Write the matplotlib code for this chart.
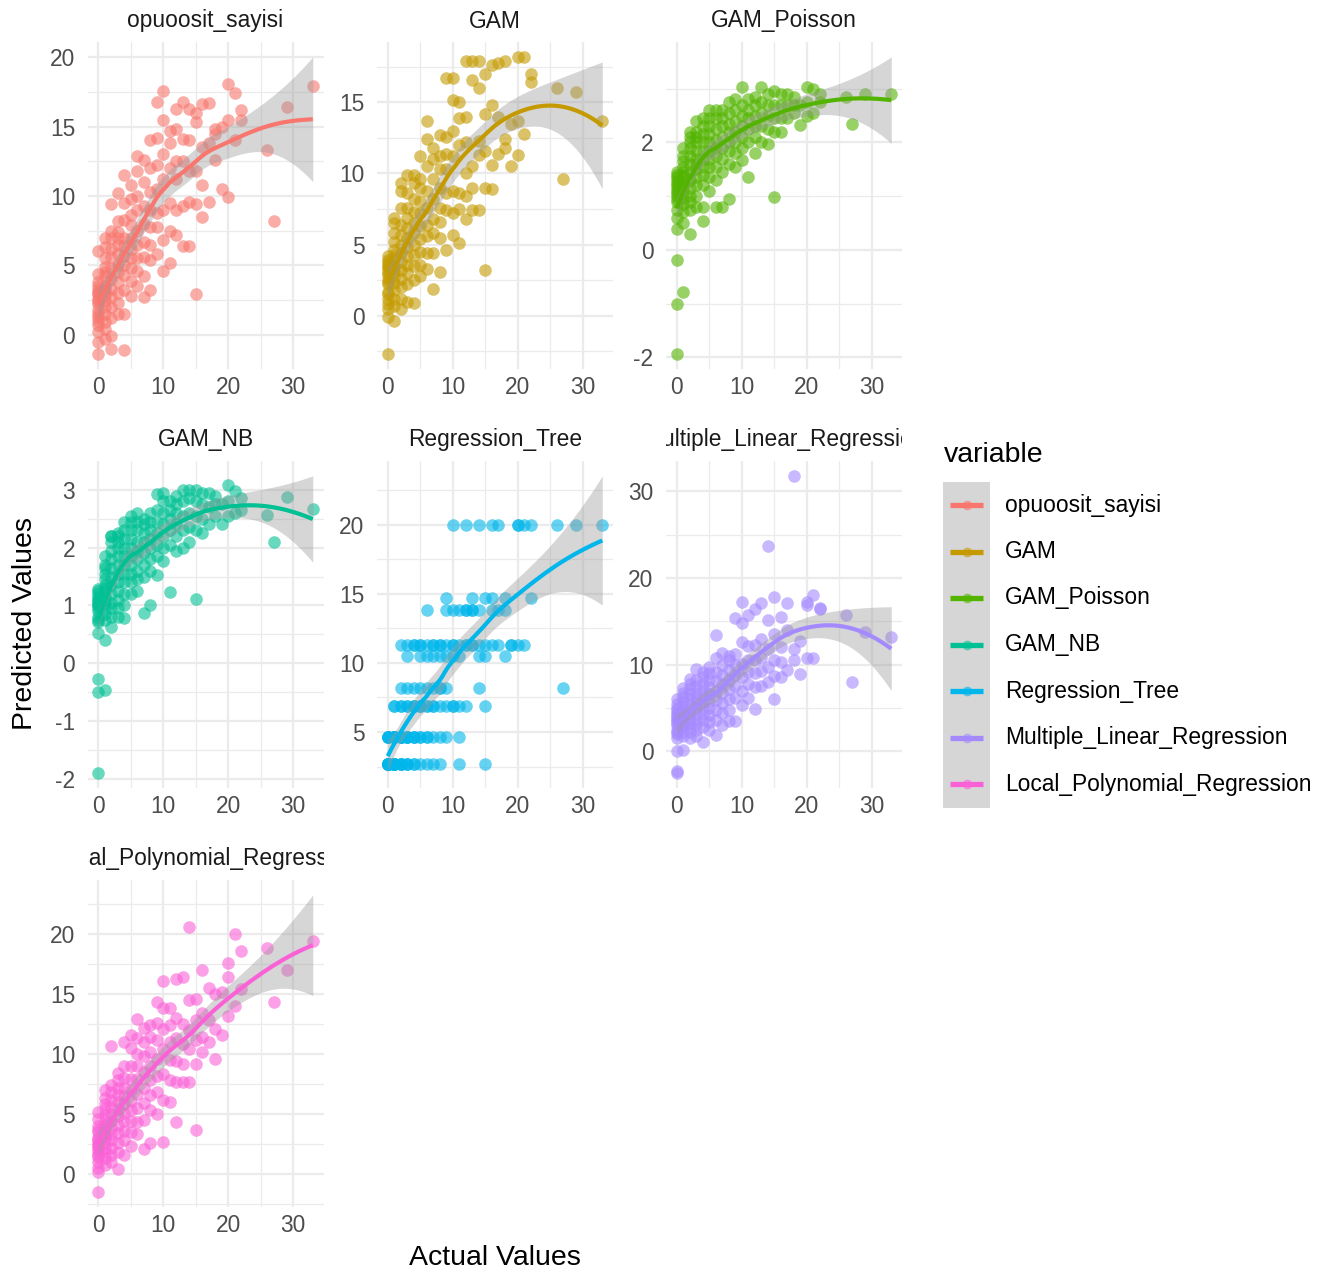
import numpy as np
import matplotlib
matplotlib.use("Agg")
import matplotlib.pyplot as plt
from matplotlib.ticker import MultipleLocator
from matplotlib.transforms import Bbox, TransformedBbox
from matplotlib.lines import Line2D
from matplotlib.patches import Rectangle

plt.rcParams["font.family"] = ["Liberation Sans", "DejaVu Sans"]

# ---------------------------------------------------------------- data
actual = [
    0, 0, 0, 0, 0, 0, 0, 0, 0, 0, 0, 0, 0, 0, 0, 0, 0, 0,
    1, 1, 1, 1, 1, 1, 1, 1, 1, 1, 1, 1, 1, 1, 1, 1,
    2, 2, 2, 2, 2, 2, 2, 2, 2, 2, 2, 2, 2,
    3, 3, 3, 3, 3, 3, 3, 3, 3, 3, 3, 3,
    4, 4, 4, 4, 4, 4, 4, 4, 4, 4, 4,
    5, 5, 5, 5, 5, 5, 5, 5, 5, 5,
    6, 6, 6, 6, 6, 6, 6, 6, 6,
    7, 7, 7, 7, 7, 7, 7, 7,
    8, 8, 8, 8, 8, 8, 8, 8,
    9, 9, 9, 9, 9, 9, 9,
    10, 10, 10, 10, 10, 10, 10,
    11, 11, 11, 11, 11, 11,
    12, 12, 12, 12, 12, 12,
    13, 13, 13, 13, 13,
    14, 14, 14, 14, 14,
    15, 15, 15, 15, 15,
    16, 16, 16, 16,
    17, 17, 17,
    18, 18, 18,
    19, 19,
    20, 20, 20,
    21, 21,
    22, 22,
    26, 27, 29, 33,
]

opuoosit_sayisi = [
    -1.4, -0.5, 0.2, 0.7, 1.0, 1.3, 1.8, 2.2, 2.6, 3.0, 3.2, 3.5, 4.4, 6.0, 1.5, 2.4, 2.9, 3.8,
    -0.3, 0.4, 0.9, 1.5, 2.0, 2.4, 2.8, 3.1, 3.6, 4.2, 4.9, 5.5, 6.3, 7.0, 3.3, 4.5,
    -1.05, -0.1, 1.2, 2.0, 2.7, 3.3, 4.0, 4.8, 5.6, 6.2, 7.0, 7.5, 9.4,
    1.5, 2.3, 3.0, 3.8, 4.5, 5.0, 5.8, 6.5, 7.0, 7.4, 8.2, 10.2,
    -1.1, 1.5, 3.2, 4.3, 5.0, 5.7, 6.4, 7.0, 8.3, 9.5, 11.5,
    2.8, 3.9, 4.8, 5.5, 6.2, 7.0, 7.9, 8.6, 9.8, 10.8,
    3.5, 4.6, 5.5, 6.5, 7.5, 9.0, 10.0, 11.8, 12.9,
    2.7, 4.2, 5.6, 6.7, 8.0, 9.3, 11.0, 12.6,
    3.2, 5.4, 6.5, 7.8, 9.0, 10.3, 12.0, 14.0,
    5.8, 7.8, 8.8, 10.5, 12.2, 14.2, 16.8,
    4.6, 6.8, 9.0, 11.2, 13.0, 15.5, 17.6,
    5.2, 7.5, 9.5, 12.0, 13.8, 14.7,
    7.2, 9.0, 11.2, 12.5, 14.8, 16.3,
    6.4, 9.3, 12.5, 14.1, 16.8,
    6.4, 9.6, 11.8, 14.0, 16.3,
    2.9, 9.4, 11.8, 15.3, 16.0,
    8.5, 10.8, 13.5, 16.6,
    9.6, 13.8, 16.7,
    12.6, 14.5, 14.8,
    10.5, 15.0,
    9.9, 15.5, 18.1,
    14.0, 17.4,
    15.5, 16.2,
    13.3, 8.2, 16.4, 17.9,
]

gam = [
    -2.7, -0.1, 0.5, 0.8, 1.2, 1.7, 2.2, 2.6, 3.0, 3.3, 3.6, 3.9, 4.2, 3.4, 1.5, 2.4, 2.9, 3.8,
    -0.35, 0.7, 1.2, 1.8, 2.3, 2.7, 3.1, 3.5, 4.0, 4.6, 5.2, 5.8, 6.5, 6.9, 3.3, 4.3,
    0.5, 1.2, 2.0, 2.6, 3.2, 3.8, 4.4, 5.0, 5.7, 6.4, 7.6, 8.8, 9.3,
    1.0, 2.2, 3.0, 3.6, 4.2, 4.8, 5.5, 6.2, 6.9, 7.6, 8.6, 9.9,
    0.9, 2.5, 3.5, 4.3, 5.0, 5.8, 6.5, 7.3, 8.2, 9.3, 9.9,
    2.8, 3.6, 4.5, 5.4, 6.3, 7.2, 8.1, 9.0, 9.6, 11.2,
    3.3, 4.4, 5.6, 6.4, 7.6, 8.8, 10.5, 12.4, 13.7,
    1.9, 4.4, 5.8, 6.8, 8.2, 9.6, 11.0, 11.8,
    3.1, 5.5, 6.6, 7.6, 9.0, 10.3, 11.2, 12.7,
    4.6, 7.4, 8.6, 10.3, 11.4, 12.6, 16.7,
    5.7, 7.2, 8.8, 11.2, 13.0, 15.2, 16.7,
    5.1, 7.5, 8.6, 12.0, 13.9, 15.0,
    6.8, 8.4, 10.0, 12.2, 14.0, 17.9,
    7.4, 9.0, 10.5, 16.6, 17.9,
    7.4, 11.3, 12.3, 16.0, 17.9,
    3.2, 9.0, 11.6, 14.2, 17.0,
    8.9, 10.6, 14.8, 17.6,
    11.4, 14.0, 17.8,
    11.8, 12.4, 17.9,
    10.5, 13.5,
    11.3, 13.7, 18.2,
    12.8, 18.2,
    16.4, 17.0,
    16.0, 9.6, 15.7, 13.7,
]

gam_poisson = [
    -1.94, -1.0, -0.18, 0.39, 0.6, 0.75, 0.9, 1.0, 1.05, 1.1, 1.2, 1.3, 1.36, 1.45, 0.95, 1.15, 1.25, 1.4,
    -0.79, 0.5, 0.7, 0.85, 0.95, 1.05, 1.15, 1.25, 1.35, 1.45, 1.55, 1.65, 1.75, 1.9, 1.2, 1.4,
    0.3, 0.75, 0.9, 1.0, 1.15, 1.3, 1.45, 1.6, 1.75, 1.9, 2.0, 2.1, 2.2,
    0.8, 1.0, 1.2, 1.35, 1.5, 1.6, 1.7, 1.85, 2.0, 2.1, 2.2, 2.4,
    0.53, 0.8, 1.2, 1.4, 1.55, 1.7, 1.85, 2.0, 2.15, 2.3, 2.45,
    1.1, 1.35, 1.55, 1.7, 1.85, 2.0, 2.15, 2.3, 2.45, 2.6,
    0.79, 1.3, 1.55, 1.75, 1.9, 2.05, 2.25, 2.45, 2.6,
    0.8, 1.45, 1.7, 1.9, 2.1, 2.3, 2.45, 2.6,
    0.95, 1.6, 1.85, 2.0, 2.2, 2.35, 2.55, 2.75,
    1.55, 1.8, 2.0, 2.2, 2.4, 2.6, 2.8,
    1.67, 1.9, 2.1, 2.3, 2.5, 2.7, 3.03,
    1.36, 2.0, 2.25, 2.45, 2.6, 2.8,
    1.8, 2.1, 2.3, 2.5, 2.7, 2.85,
    2.0, 2.3, 2.55, 2.75, 3.03,
    1.97, 2.25, 2.5, 2.7, 2.9,
    0.99, 2.2, 2.45, 2.7, 2.95,
    2.2, 2.45, 2.7, 2.9,
    2.45, 2.7, 2.9,
    2.55, 2.7, 2.85,
    2.33, 2.7,
    2.5, 2.75, 3.03,
    2.55, 3.0,
    2.75, 2.9,
    2.85, 2.35, 2.9, 2.9,
]

gam_nb = [
    -1.9, -0.5, -0.27, 0.52, 0.72, 0.75, 0.8, 0.9, 1.0, 1.05, 1.1, 1.15, 1.2, 1.28, 0.95, 1.1, 1.25, 1.0,
    -0.47, 0.41, 0.75, 0.85, 0.95, 1.05, 1.15, 1.25, 1.3, 1.45, 1.55, 1.65, 1.7, 1.85, 1.1, 1.35,
    0.63, 0.8, 0.95, 1.05, 1.2, 1.35, 1.5, 1.65, 1.8, 1.95, 2.1, 2.2, 2.2,
    0.8, 0.95, 1.1, 1.25, 1.4, 1.55, 1.7, 1.85, 2.0, 2.1, 2.2, 2.25,
    0.78, 1.0, 1.2, 1.4, 1.55, 1.7, 1.85, 2.0, 2.15, 2.3, 2.45,
    1.2, 1.4, 1.55, 1.7, 1.85, 2.0, 2.15, 2.3, 2.45, 2.55,
    1.25, 1.45, 1.6, 1.8, 1.95, 2.1, 2.3, 2.45, 2.6,
    0.87, 1.5, 1.7, 1.9, 2.1, 2.25, 2.4, 2.5,
    1.0, 1.6, 1.8, 2.0, 2.15, 2.3, 2.45, 2.6,
    1.52, 1.85, 2.05, 2.25, 2.45, 2.65, 2.92,
    1.77, 2.0, 2.2, 2.4, 2.6, 2.8, 2.94,
    1.23, 2.05, 2.3, 2.5, 2.65, 2.8,
    1.95, 2.2, 2.4, 2.6, 2.75, 2.9,
    2.0, 2.3, 2.55, 2.8, 3.0,
    2.1, 2.35, 2.6, 2.85, 3.0,
    1.12, 2.3, 2.55, 2.8, 3.0,
    2.25, 2.5, 2.75, 2.95,
    2.4, 2.7, 2.95,
    2.55, 2.75, 2.9,
    2.4, 2.75,
    2.55, 2.8, 3.08,
    2.6, 2.98,
    2.65, 2.85,
    2.57, 2.09, 2.87, 2.66,
]

regression_tree = [
    2.7, 2.7, 2.7, 2.7, 2.7, 2.7, 2.7, 2.7, 2.7, 2.7, 2.7, 2.7, 2.7, 4.6, 4.6, 4.6, 4.6, 4.6,
    2.7, 2.7, 2.7, 2.7, 2.7, 2.7, 2.7, 4.6, 4.6, 4.6, 4.6, 4.6, 4.6, 4.6, 6.9, 6.9,
    2.7, 2.7, 2.7, 2.7, 4.6, 4.6, 4.6, 4.6, 4.6, 6.9, 6.9, 8.2, 11.3,
    2.7, 2.7, 2.7, 4.6, 4.6, 4.6, 4.6, 6.9, 6.9, 8.2, 10.5, 11.3,
    2.7, 2.7, 4.6, 4.6, 4.6, 6.9, 6.9, 6.9, 8.2, 11.3, 11.3,
    2.7, 4.6, 4.6, 6.9, 6.9, 6.9, 8.2, 10.5, 11.3, 11.3,
    2.7, 4.6, 4.6, 6.9, 6.9, 8.2, 10.5, 11.3, 13.8,
    2.7, 4.6, 6.9, 6.9, 8.2, 10.5, 11.3, 11.3,
    2.7, 4.6, 6.9, 8.2, 8.2, 10.5, 11.3, 11.3,
    4.6, 6.9, 8.2, 10.5, 11.3, 13.8, 14.7,
    6.9, 6.9, 10.5, 11.3, 11.3, 13.8, 20.0,
    2.7, 4.6, 6.9, 10.5, 11.3, 13.8,
    6.9, 11.3, 11.3, 13.8, 13.8, 20.0,
    11.3, 11.3, 13.8, 13.8, 14.7,
    8.2, 10.5, 11.3, 13.8, 20.0,
    2.7, 6.9, 10.5, 11.3, 14.7,
    11.3, 13.8, 14.7, 20.0,
    11.3, 13.8, 20.0,
    10.5, 13.8, 14.7,
    11.3, 11.3,
    11.3, 20.0, 20.0,
    11.3, 20.0,
    14.7, 20.0,
    20.0, 8.2, 20.0, 20.0,
]

multiple_linear_regression = [
    -2.5, -2.2, 0.0, 1.5, 2.0, 2.5, 3.0, 3.3, 3.7, 4.0, 4.4, 5.0, 5.5, 6.0, 2.2, 3.5, 4.2, 4.8,
    0.2, 1.8, 2.3, 2.8, 3.2, 3.6, 4.0, 4.4, 4.8, 5.3, 5.8, 6.3, 6.8, 7.3, 3.4, 4.6,
    1.6, 2.3, 2.8, 3.3, 3.8, 4.3, 4.8, 5.4, 6.0, 6.6, 7.2, 7.8, 8.4,
    1.8, 2.5, 3.2, 3.8, 4.4, 5.0, 5.6, 6.2, 6.8, 7.5, 8.2, 9.5,
    1.1, 2.8, 3.6, 4.3, 5.0, 5.7, 6.4, 7.1, 7.8, 8.6, 9.2,
    2.5, 3.4, 4.2, 5.0, 5.8, 6.6, 7.4, 8.2, 9.0, 9.8,
    1.9, 3.6, 4.8, 5.9, 7.0, 8.1, 9.2, 10.8, 13.4,
    3.0, 4.4, 5.6, 6.7, 7.8, 8.8, 10.0, 11.4,
    3.5, 4.8, 6.0, 7.2, 8.3, 9.4, 10.5, 11.0,
    3.5, 6.2, 7.5, 8.8, 10.0, 11.2, 15.4,
    5.4, 7.0, 8.6, 10.1, 12.6, 14.8, 17.3,
    6.2, 7.8, 9.2, 10.6, 12.2, 15.7,
    4.9, 7.4, 9.0, 10.6, 12.3, 16.4,
    7.6, 9.3, 10.8, 13.0, 17.1,
    8.0, 9.8, 11.8, 15.2, 23.7,
    6.0, 8.7, 10.5, 13.6, 17.8,
    8.6, 10.3, 12.0, 15.5,
    9.4, 14.0, 17.1,
    10.5, 11.8, 31.8,
    8.9, 12.7,
    10.8, 16.9, 17.3,
    10.8, 18.1,
    16.4, 16.5,
    15.8, 8.0, 13.8, 13.2,
]

local_polynomial_regression = [
    -1.5, 0.15, 0.5, 1.0, 1.4, 1.8, 2.1, 2.4, 2.7, 3.0, 3.5, 4.0, 4.6, 5.2, 1.6, 2.3, 2.9, 3.7,
    0.8, 1.3, 1.8, 2.2, 2.6, 3.0, 3.4, 3.9, 4.4, 4.9, 5.4, 5.8, 6.3, 7.0, 3.2, 4.1,
    1.0, 1.6, 2.2, 2.8, 3.3, 3.8, 4.4, 5.0, 5.6, 6.2, 6.8, 7.4, 10.7,
    0.4, 1.8, 2.6, 3.4, 4.1, 4.8, 5.4, 6.0, 6.6, 7.2, 7.8, 8.4,
    1.6, 2.8, 3.6, 4.4, 5.1, 5.8, 6.5, 7.2, 8.0, 9.0, 11.0,
    2.3, 3.5, 4.4, 5.3, 6.1, 7.0, 7.9, 9.0, 10.5, 11.6,
    3.3, 4.3, 5.5, 6.7, 7.9, 9.0, 10.0, 11.3, 12.9,
    2.05, 4.5, 5.9, 7.2, 8.5, 9.8, 11.0, 12.2,
    2.6, 5.3, 6.6, 7.8, 9.0, 10.2, 11.4, 12.4,
    5.0, 6.8, 8.2, 9.6, 11.2, 12.6, 14.3,
    2.7, 6.2, 8.3, 10.4, 12.1, 13.8, 16.1,
    6.0, 7.8, 9.5, 11.0, 12.4, 13.8,
    4.3, 7.7, 9.4, 11.3, 13.0, 16.2,
    7.7, 9.2, 10.8, 12.5, 16.4,
    7.7, 10.4, 12.0, 14.5, 20.6,
    3.7, 9.2, 11.2, 12.8, 14.6,
    10.2, 11.4, 13.4, 17.0,
    11.0, 12.8, 15.5,
    9.6, 12.1, 15.0,
    11.6, 15.2,
    13.2, 16.4, 17.6,
    14.0, 20.0,
    15.4, 18.6,
    18.8, 14.3, 17.0, 19.4,
]

variables = [
    "opuoosit_sayisi", "GAM", "GAM_Poisson", "GAM_NB", "Regression_Tree",
    "Multiple_Linear_Regression", "Local_Polynomial_Regression",
]
predicted = [
    opuoosit_sayisi, gam, gam_poisson, gam_nb, regression_tree,
    multiple_linear_regression, local_polynomial_regression,
]
palette = ["#F8766D", "#C49A00", "#53B400", "#00C094", "#00B6EB", "#A58AFF", "#FB61D7"]
y_major = [5, 5, 2, 1, 5, 10, 5]


# ---------------------------------------------------------------- loess smoother
def loess_fit(x, y, grid, span=0.75):
    x = np.asarray(x, float)
    y = np.asarray(y, float)
    n = len(x)
    q = int(np.floor(n * span))

    def row(x0):
        d = np.abs(x - x0)
        h = np.sort(d)[q - 1]
        u = np.clip(d / h, 0, 1)
        w = (1 - u ** 3) ** 3
        X = np.column_stack([np.ones(n), x - x0, (x - x0) ** 2])
        XtW = X.T * w
        return np.linalg.solve(XtW @ X, XtW)[0]

    L = np.array([row(v) for v in x])
    resid = y - L @ y
    M = np.eye(n) - L
    delta1 = np.trace(M.T @ M)
    sigma = np.sqrt(resid @ resid / delta1)
    G = np.array([row(v) for v in grid])
    fit = G @ y
    se = sigma * np.sqrt((G ** 2).sum(axis=1))
    return fit, se


# ---------------------------------------------------------------- layout
W, H = 1333, 1277
fig = plt.figure(figsize=(W / 100, H / 100), dpi=100)
fig.patch.set_facecolor("white")


def fx(px):
    return px / W


def fy(py):
    return 1 - py / H


col_left = [87.5, 377, 666]
row_top = [42, 461, 880]
pw, ph = 236, 327

x_arr = np.asarray(actual, float)
grid_x = np.linspace(x_arr.min(), x_arr.max(), 80)
xpad = 0.05 * (x_arr.max() - x_arr.min())

for i, (name, yvals, col) in enumerate(zip(variables, predicted, palette)):
    r, c = divmod(i, 3)
    left, top = col_left[c], row_top[r]
    ax = fig.add_axes([fx(left), fy(top + ph), pw / W, ph / H])
    ax.set_facecolor("white")
    for s in ax.spines.values():
        s.set_visible(False)

    y_arr = np.asarray(yvals, float)
    ax.scatter(x_arr, y_arr, s=82, color=col, alpha=0.6, linewidths=0, zorder=2)
    fit, se = loess_fit(x_arr, y_arr, grid_x)
    t = 1.975
    ax.fill_between(grid_x, fit - t * se, fit + t * se, color="#999999", alpha=0.4,
                    linewidth=0, zorder=3)
    ax.plot(grid_x, fit, color=col, lw=3.0, zorder=4, solid_capstyle="butt")

    ax.set_xlim(x_arr.min() - xpad, x_arr.max() + xpad)
    lo = min(y_arr.min(), (fit - t * se).min())
    hi = max(y_arr.max(), (fit + t * se).max())
    ypad = 0.05 * (hi - lo)
    ax.set_ylim(lo - ypad, hi + ypad)

    ax.xaxis.set_major_locator(MultipleLocator(10))
    ax.xaxis.set_minor_locator(MultipleLocator(5))
    ax.yaxis.set_major_locator(MultipleLocator(y_major[i]))
    ax.yaxis.set_minor_locator(MultipleLocator(y_major[i] / 2))
    ax.grid(which="major", color="#EBEBEB", lw=1.6)
    ax.grid(which="minor", color="#EBEBEB", lw=0.9)
    ax.set_axisbelow(True)
    ax.tick_params(which="both", length=0)
    ax.tick_params(axis="x", pad=5, labelsize=16.4, labelcolor="#4D4D4D")
    ax.tick_params(axis="y", pad=9, labelsize=16.4, labelcolor="#4D4D4D")
    ax.yaxis.set_major_formatter(plt.FuncFormatter(lambda v, p: f"{v:g}"))

    # facet strip title, clipped to the panel width
    st = fig.text(fx(left + pw / 2), fy(top - 21), name, ha="center", va="center",
                  fontsize=16.4, color="#1A1A1A")
    st.set_clip_box(TransformedBbox(
        Bbox([[fx(left), fy(top - 2)], [fx(left + pw), fy(top - 42)]]), fig.transFigure))
    st.set_clip_on(True)

# axis titles
fig.text(fx(25), fy(624), "Predicted Values", rotation=90, ha="center", va="center",
         fontsize=20.5, color="black")
fig.text(fx(494.8), fy(1258), "Actual Values", ha="center", va="center",
         fontsize=20.5, color="black")

# legend
fig.text(fx(944), fy(455), "variable", ha="left", va="center", fontsize=20.5, color="black")
fig.patches.append(Rectangle((fx(943), fy(808)), 47 / W, (808 - 482) / H,
                             transform=fig.transFigure, facecolor="#D6D6D6",
                             edgecolor="none", zorder=1))
for k, (name, col) in enumerate(zip(variables, palette)):
    yc = 505 + 46.5 * k
    fig.lines.append(Line2D([fx(950), fx(983)], [fy(yc), fy(yc)], transform=fig.transFigure,
                            color=col, lw=3.8, zorder=2, solid_capstyle="butt"))
    fig.lines.append(Line2D([fx(966.5)], [fy(yc)], transform=fig.transFigure, marker="o",
                            markersize=7, markeredgewidth=0, color=col, alpha=0.6,
                            linestyle="none", zorder=3))
    fig.text(fx(1005), fy(yc), name, ha="left", va="center", fontsize=16.4, color="black")

fig.savefig("out.png", dpi=100, facecolor="white")
